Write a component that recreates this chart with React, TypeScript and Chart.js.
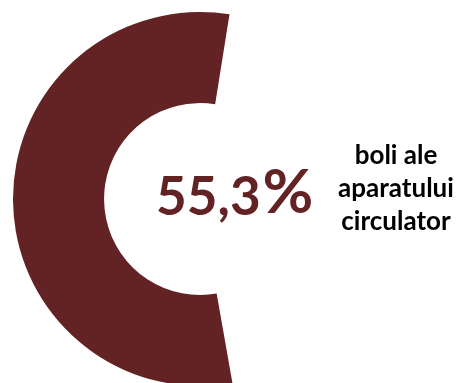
import React, { useEffect, useRef } from "react";
import { Chart, registerables } from "chart.js";

Chart.register(...registerables);

const categories = ["boli ale aparatului circulator", "alte"];
const values = [55.3, 44.7];
const centerLabel = "55,3";
const centerUnit = "%";
const sideLabel = ["boli ale", "aparatului", "circulator"];
const sliceColor = "#632324";

const textPlugin = {
  id: "textPlugin",
  afterDraw(chart: any) {
    const ctx = chart.ctx;
    ctx.save();
    ctx.fillStyle = sliceColor;
    ctx.textBaseline = "alphabetic";
    ctx.textAlign = "left";
    ctx.font = "bold 53px Lato";
    ctx.fillText(centerLabel, 156, 215);
    const w = ctx.measureText(centerLabel).width;
    ctx.font = "bold 62px Lato";
    ctx.fillText(centerUnit, 156 + w + 2, 213);
    ctx.fillStyle = "#000000";
    ctx.textAlign = "center";
    ctx.font = "bold 26px Lato";
    const ys = [164, 197, 230];
    sideLabel.forEach((t, i) => ctx.fillText(t, 396, ys[i]));
    ctx.restore();
  },
};

export default function App() {
  const ref = useRef<HTMLCanvasElement>(null);
  useEffect(() => {
    if (!ref.current) return;
    const chart = new Chart(ref.current, {
      type: "doughnut",
      data: {
        labels: categories,
        datasets: [
          {
            data: values,
            backgroundColor: [sliceColor, "rgba(0,0,0,0)"],
            borderWidth: 0,
          },
        ],
      },
      options: {
        responsive: false,
        animation: false,
        cutout: "51.3%",
        rotation: 170,
        layout: { padding: { top: 12, bottom: 14, left: 13, right: 74 } },
        plugins: { legend: { display: false }, tooltip: { enabled: false } },
      },
      plugins: [textPlugin],
    });
    return () => chart.destroy();
  }, []);
  return (
    <div style={{ position: "absolute", left: 0, top: 0, width: 461, height: 383, overflow: "hidden", background: "#fff" }}>
      <canvas ref={ref} width={461} height={400} style={{ display: "block" }} />
    </div>
  );
}
